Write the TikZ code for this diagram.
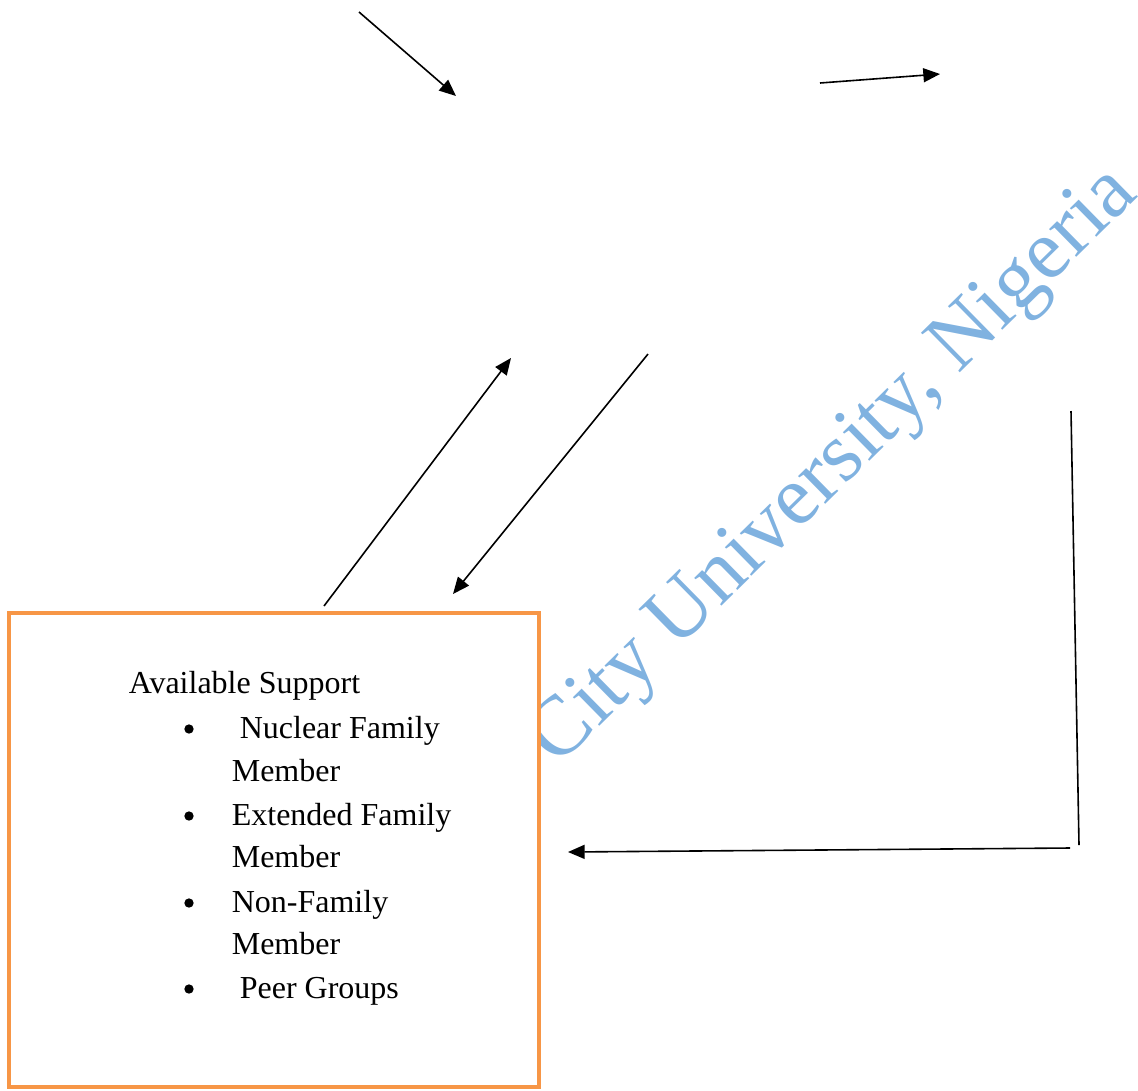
\documentclass[tikz,border=0pt]{standalone}
\usepackage{fontspec}
\setmainfont{Liberation Serif}
\usepackage{tikz}
\usetikzlibrary{arrows.meta,positioning}
\definecolor{boxorange}{RGB}{247,150,70}
\definecolor{markblue}{RGB}{128,178,224}

\begin{document}
\begin{tikzpicture}[x=0.75pt,y=-0.75pt,>={Triangle[length=12.5pt,width=10.5pt]},
                    line width=1.2pt,
                    item/.style={anchor=base west,inner sep=0pt,font=\fontsize{24}{29}\selectfont},
                    dot/.style={circle,fill,inner sep=0pt,minimum size=7pt}]

  \useasboundingbox (0,0) rectangle (1138,1090);

  % watermark behind the box
  \node[anchor=base west,inner sep=0pt,rotate=44.5,text=markblue,
        font=\fontsize{63.5}{70}\selectfont] (mark) at (428,895) {Coal City University, Nigeria};

  \node[draw=boxorange,fill=white,line width=3pt,minimum width=397.5pt,
        minimum height=355.5pt] (support) at (274,850) {};

  \node[item] (title) at (128,693) {Available Support};
  \node[dot] (b1) at (189,729) {};
  \node[item] (t1) at (239,738) {Nuclear Family};
  \node[item] (t1b) at (231,781) {Member};
  \node[dot] (b2) at (189,816) {};
  \node[item] (t2) at (231,825) {Extended Family};
  \node[item] (t2b) at (231,867) {Member};
  \node[dot] (b3) at (189,903) {};
  \node[item] (t3) at (231,912) {Non-Family};
  \node[item] (t3b) at (231,954) {Member};
  \node[dot] (b4) at (189,989) {};
  \node[item] (t4) at (239,998) {Peer Groups};

  \coordinate (p1) at (359,12);
  \coordinate (q1) at (456,96);
  \coordinate (p2) at (820,83);
  \coordinate (q2) at (940,74);
  \coordinate (p3) at (324,606);
  \coordinate (q3) at (511,358);
  \coordinate (p4) at (648,354);
  \coordinate (q4) at (453,594);
  \coordinate (p5) at (1071,411);
  \coordinate (q5) at (1079,845);
  \coordinate (p6) at (1070,848);
  \coordinate (q6) at (568,852);

  \draw[->] (p1) -- (q1);
  \draw[->] (p2) -- (q2);
  \draw[->] (p3) -- (q3);
  \draw[->] (p4) -- (q4);
  \draw (p5) -- (q5);
  \draw[->] (p6) -- (q6);
\end{tikzpicture}
\end{document}
